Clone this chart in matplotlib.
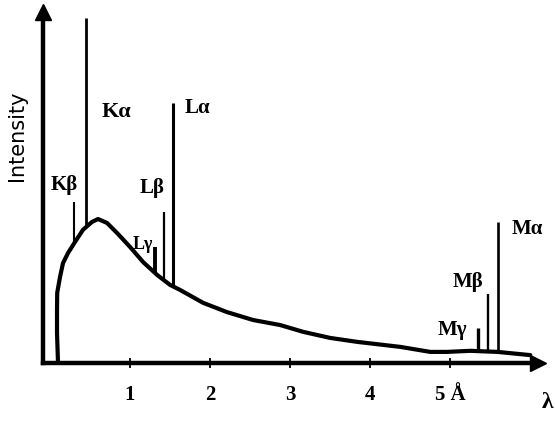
import numpy as np
import matplotlib
matplotlib.use("Agg")
import matplotlib.pyplot as plt

# -----------------------------
# Continuous (bremsstrahlung) spectrum
# -----------------------------
wl = [0.10, 0.0875, 0.0875, 0.09, 0.125, 0.1625, 0.225, 0.3125, 0.4125,
      0.525, 0.60, 0.7125, 0.8375, 1.0, 1.1625, 1.3375, 1.5, 1.625,
      1.9125, 2.2125, 2.5375, 2.875, 3.1625, 3.5, 3.8375, 4.375, 4.75,
      4.96, 5.25, 5.59, 6.0]
inten = [0.0, 8.4, 14.8, 19.6, 24.0, 27.9, 30.7, 33.8, 37.2,
         39.4, 40.2, 39.1, 36.3, 32.4, 28.2, 24.6, 21.8, 20.4,
         16.8, 14.2, 12.0, 10.6, 8.7, 7.0, 5.9, 4.5, 3.1,
         3.1, 3.4, 3.1, 2.2]

# -----------------------------
# Characteristic lines: position, peak height, label
# -----------------------------
line_names = ["Kβ", "Kα", "Lγ", "Lβ", "Lα", "Mγ", "Mβ", "Mα"]
line_pos = [0.30, 0.45, 1.31, 1.425, 1.54, 5.35, 5.475, 5.60]
line_top = [45.0, 96.4, 32.4, 42.2, 72.6, 9.8, 19.3, 39.4]
line_lw = [1.5, 2.0, 2.8, 1.6, 2.2, 2.4, 1.7, 1.9]

# label centres (data coords) and sizes
lab_x = [0.175, 0.825, 1.16, 1.275, 1.84, 5.03, 5.22, 5.96]
lab_y = [49.7, 70.1, 33.0, 48.9, 71.2, 9.2, 22.6, 37.4]
lab_fs = [15, 16, 13, 15, 15, 15, 15, 15]

ticks = [1, 2, 3, 4, 5]
tick_labels = ["1", "2", "3", "4", "5 Å"]

plt.rcParams['font.family'] = ['Liberation Serif', 'DejaVu Serif']

fig = plt.figure(figsize=(5.55, 4.21), dpi=100)
ax = fig.add_axes([43 / 555, 58 / 421, 494.5 / 555, 351 / 421])
ax.set_xlim(-0.0875, 6.09)
ax.set_ylim(0, 98)

# spectrum
ax.plot(wl, inten, color='black', lw=3, solid_capstyle='round',
        solid_joinstyle='round')

# lines standing on the continuum
base = np.interp(line_pos, wl[3:], inten[3:])
for x, b, t, w in zip(line_pos, base, line_top, line_lw):
    ax.plot([x, x], [b, t], color='black', lw=w, solid_capstyle='butt')

for name, x, y, fs in zip(line_names, lab_x, lab_y, lab_fs):
    ax.text(x, y, name, ha='center', va='center', fontsize=fs,
            fontweight='bold')

# axes with arrow heads
for s in ['top', 'right']:
    ax.spines[s].set_visible(False)
for s in ['left', 'bottom']:
    ax.spines[s].set_linewidth(3.2)
ax.plot(0, 1, marker='^', color='black', ms=11, transform=ax.transAxes,
        clip_on=False)
ax.plot(1, 0, marker='>', color='black', ms=11, transform=ax.transAxes,
        clip_on=False)

ax.set_yticks([])
ax.set_xticks(ticks)
ax.set_xticklabels(tick_labels, fontsize=15, fontweight='bold')
ax.tick_params(axis='x', direction='inout', length=7, width=1.3, pad=12)

fig.text(547 / 555, 1 - 403 / 421, 'λ', ha='center', va='center',
         fontsize=17, fontweight='bold')
fig.text(17 / 555, 1 - 136 / 421, 'Intensity', rotation=90, ha='center',
         va='center', fontsize=15, family='DejaVu Sans')

fig.savefig('out.png', dpi=100)
